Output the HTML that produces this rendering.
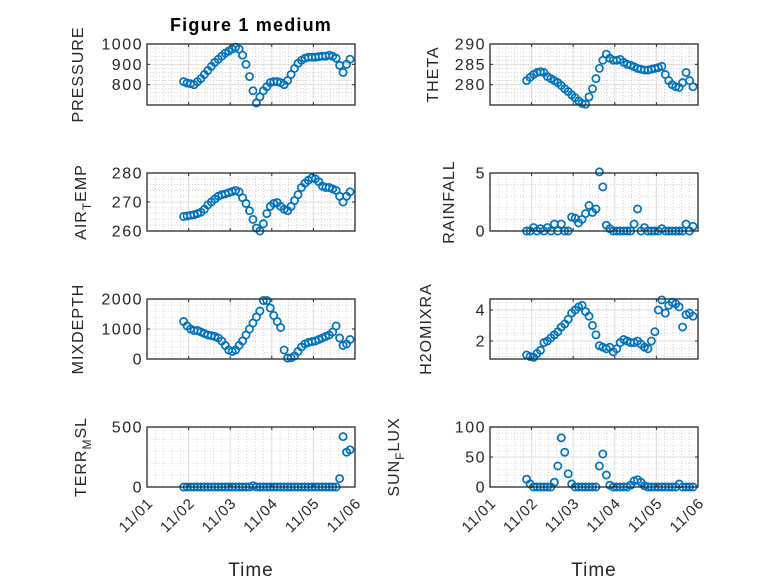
<!DOCTYPE html>
<html><head><meta charset="utf-8"><style>
html,body{margin:0;padding:0;background:#fff;}
svg{display:block;font-family:"Liberation Sans","DejaVu Sans",sans-serif;}
</style></head><body>
<svg id="fig" width="778" height="583" viewBox="0 0 778 583" xmlns="http://www.w3.org/2000/svg">
<rect x="0" y="0" width="778" height="583" fill="#fff"/>
<text x="251" y="31" text-anchor="middle" font-size="18" font-weight="bold" fill="#000" letter-spacing="1.2">Figure 1 medium</text>
</svg>
<script>
// time: days since 11/01 00:00, one sample every 2 hours
const tStart = 0.88;
const tStep = 1/12;
const xTickLabels = ["11/01","11/02","11/03","11/04","11/05","11/06"];
const pressure = [815,808,805,800,815,830,850,870,890,910,925,940,955,965,975,985,975,945,900,840,770,710,740,770,790,810,815,815,810,800,820,850,880,905,920,930,935,935,935,938,940,940,945,940,930,895,860,900,925];
const theta = [281,281.8,282.5,283,283.2,283,282,281.5,281,280.5,279.8,279,278.3,277.5,276.8,276,275.4,275.2,277,279,281.5,284,286,287.5,286.5,286,286,286.2,285.5,285,284.8,284.4,284,283.8,283.6,283.6,283.8,284,284.2,284.5,282.5,281,280,279.5,279.3,280.5,283,281,279.5];
const airTemp = [265,265.2,265.4,265.6,266,266.5,267.5,269,270,271,272,272.5,272.8,273.2,273.6,274,273.5,271.5,269.5,267,264,261,260,262.5,266,268.5,269.5,269.8,268.5,267.5,267,268.5,270.5,272.5,275,276.5,277.5,278.3,278,277,275.5,275,275,274.5,274,272,270,272,273.5];
const rainfall = [0,0,0.3,0,0.2,0,0.3,0,0.6,0,0.6,0,0,1.2,1.1,0.7,1.0,1.5,2.2,1.6,1.9,5.1,3.8,0.5,0.2,0,0,0,0,0,0,0.6,1.9,0,0.3,0,0,0,0,0.2,0,0,0,0,0,0,0.6,0,0.4];
const mixDepth = [1250,1100,1000,950,950,900,850,800,780,750,700,600,450,300,250,300,450,600,800,1000,1200,1400,1600,1950,1950,1700,1450,1250,1050,300,30,40,100,250,400,500,550,580,600,650,700,750,800,900,1100,700,450,500,650];
const h2oMix = [1.1,1.0,0.95,1.2,1.4,1.9,2.0,2.2,2.4,2.6,2.9,3.1,3.4,3.8,4.0,4.2,4.3,3.9,3.6,3.0,2.4,1.7,1.6,1.5,1.6,1.3,1.5,1.9,2.1,2.0,1.9,1.9,2.0,1.8,1.6,1.5,2.0,2.6,4.0,4.65,3.8,4.3,4.5,4.4,4.2,2.9,3.7,3.8,3.6];
const terrMsl = [0,0,0,0,0,0,0,0,0,0,0,0,0,0,0,0,0,0,0,0,10,0,0,0,0,0,0,0,0,0,0,0,0,0,0,0,0,0,0,0,0,0,0,0,0,70,420,290,310];
const sunFlux = [13,5,0,0,0,0,0,0,8,35,82,58,22,5,0,0,0,0,0,0,0,35,55,20,3,0,0,0,0,0,3,10,12,8,2,0,0,0,0,0,0,0,0,0,5,0,0,0,0];
const pressureTicks = [800,900,1000];
const thetaTicks = [280,285,290];
const airTicks = [260,270,280];
const rainTicks = [0,5];
const mixTicks = [0,1000,2000];
const h2oTicks = [2,4];
const terrTicks = [0,500];
const sunTicks = [0,50,100];

const NS = "http://www.w3.org/2000/svg";
const svg = document.getElementById('fig');
function mk(tag, attrs, parent){
  const e = document.createElementNS(NS, tag);
  for (const k in attrs) e.setAttribute(k, attrs[k]);
  (parent||svg).appendChild(e);
  return e;
}
const COLS = [{x0:147,x1:355,lab:143},{x0:490,x1:698,lab:486}];
const ROWS = [{y0:44,y1:105},{y0:173,y1:231},{y0:299,y1:359},{y0:427,y1:487}];

function panel(o){
  const c = COLS[o.col], r = ROWS[o.row];
  const g = mk('g', {});
  
  
  const xs = d => c.x0 + (d - 0) / 5 * (c.x1 - c.x0);
  const ys = v => r.y1 - (v - o.ymin) / (o.ymax - o.ymin) * (r.y1 - r.y0);
  for (let d = 0; d <= 5.0001; d += 0.2) {
    if (Math.abs(d - Math.round(d)) < 1e-6) continue;
    const l = mk('line', {x1:xs(d), x2:xs(d), y1:r.y0, y2:r.y1, stroke:'#b8b8b8', 'stroke-width':0.6, 'stroke-dasharray':'1,2'}, g);
    
    
  }
  for (let v = Math.ceil(o.ymin / o.minor) * o.minor; v <= o.ymax + 1e-9; v += o.minor) {
    if (o.ticks.some(t => Math.abs(t - v) < 1e-6)) continue;
    const l = mk('line', {x1:c.x0, x2:c.x1, y1:ys(v), y2:ys(v), stroke:'#b8b8b8', 'stroke-width':0.6, 'stroke-dasharray':'1,2'}, g);
    
    
  }
  for (let d = 1; d < 5; d++) {
    const l = mk('line', {x1:xs(d), x2:xs(d), y1:r.y0, y2:r.y1, stroke:'#dedede', 'stroke-width':1}, g);
    
    
  }
  o.ticks.forEach(v => {
    const l = mk('line', {x1:c.x0, x2:c.x1, y1:ys(v), y2:ys(v), stroke:'#dedede', 'stroke-width':1}, g);
    
    
  });
  o.data.forEach((v, i) => {
    const t = tStart + i * tStep;
    const cy = Math.max(r.y0 - 2, Math.min(r.y1 + 2, ys(v)));
    const m = mk('circle', {cx:xs(t), cy:cy, r:3.6, fill:'none', stroke:'#0072BD', 'stroke-width':1.7}, g);
    
    
  });
  const b = mk('rect', {x:c.x0, y:r.y0, width:c.x1-c.x0, height:r.y1-r.y0, fill:'none', stroke:'#262626', 'stroke-width':1.3}, g);
  
  
  for (let d = 0; d <= 5; d++) {
    mk('line', {x1:xs(d), x2:xs(d), y1:r.y1, y2:r.y1-3, stroke:'#262626', 'stroke-width':1}, g);
    mk('line', {x1:xs(d), x2:xs(d), y1:r.y0, y2:r.y0+3, stroke:'#262626', 'stroke-width':1}, g);
    if (o.row === 3) {
      const tl = mk('text', {x:0, y:0, 'text-anchor':'end', 'font-size':15, 'letter-spacing':1, fill:'#262626', transform:`translate(${xs(d)+7},${r.y1+17}) rotate(-45)`}, g);
      tl.textContent = xTickLabels[d];
      
      
    }
  }
  o.ticks.forEach(v => {
    mk('line', {x1:c.x0, x2:c.x0+3, y1:ys(v), y2:ys(v), stroke:'#262626', 'stroke-width':1}, g);
    mk('line', {x1:c.x1, x2:c.x1-3, y1:ys(v), y2:ys(v), stroke:'#262626', 'stroke-width':1}, g);
    const tl = mk('text', {x:c.lab, y:ys(v)+5.5, 'text-anchor':'end', 'font-size':16, 'letter-spacing':1.5, fill:'#262626'}, g);
    tl.textContent = String(v);
    
    
  });
  const cy = (r.y0 + r.y1) / 2;
  const yl = mk('text', {x:0, y:0, 'text-anchor':'middle', 'font-size':16, 'letter-spacing':1, fill:'#262626', transform:`translate(${o.lx},${cy}) rotate(-90)`}, g);
  
  
  if (o.sub) {
    const a = mk('tspan', {}, yl); a.textContent = o.label[0];
    const s = mk('tspan', {'font-size':12, dy:5}, yl); s.textContent = o.label[1];
    const e = mk('tspan', {dy:-5}, yl); e.textContent = o.label[2];
  } else {
    yl.textContent = o.label;
  }
  if (o.row === 3) {
    const xt = mk('text', {x:(c.x0+c.x1)/2, y:576, 'text-anchor':'middle', 'font-size':19, 'letter-spacing':1, fill:'#262626'}, g);
    xt.textContent = 'Time';
    
    
  }
}

panel({name:'pressure', col:0, row:0, data:pressure, ymin:700, ymax:1000, ticks:pressureTicks, minor:20, label:'PRESSURE', lx:83});
panel({name:'theta', col:1, row:0, data:theta, ymin:275, ymax:290, ticks:thetaTicks, minor:1, label:'THETA', lx:438});
panel({name:'air-temp', col:0, row:1, data:airTemp, ymin:260, ymax:280, ticks:airTicks, minor:2, sub:true, label:['AIR','T','EMP'], lx:86});
panel({name:'rainfall', col:1, row:1, data:rainfall, ymin:0, ymax:5, ticks:rainTicks, minor:1, label:'RAINFALL', lx:454});
panel({name:'mixdepth', col:0, row:2, data:mixDepth, ymin:0, ymax:2000, ticks:mixTicks, minor:200, label:'MIXDEPTH', lx:83});
panel({name:'h2omixratio', col:1, row:2, data:h2oMix, ymin:0.84, ymax:4.71, ticks:h2oTicks, minor:0.5, label:'H2OMIXRA', lx:431});
panel({name:'terr-msl', col:0, row:3, data:terrMsl, ymin:0, ymax:500, ticks:terrTicks, minor:100, sub:true, label:['TERR','M','SL'], lx:86});
panel({name:'sun-flux', col:1, row:3, data:sunFlux, ymin:0, ymax:100, ticks:sunTicks, minor:10, sub:true, label:['SUN','F','LUX'], lx:399});
</script>
</body></html>
